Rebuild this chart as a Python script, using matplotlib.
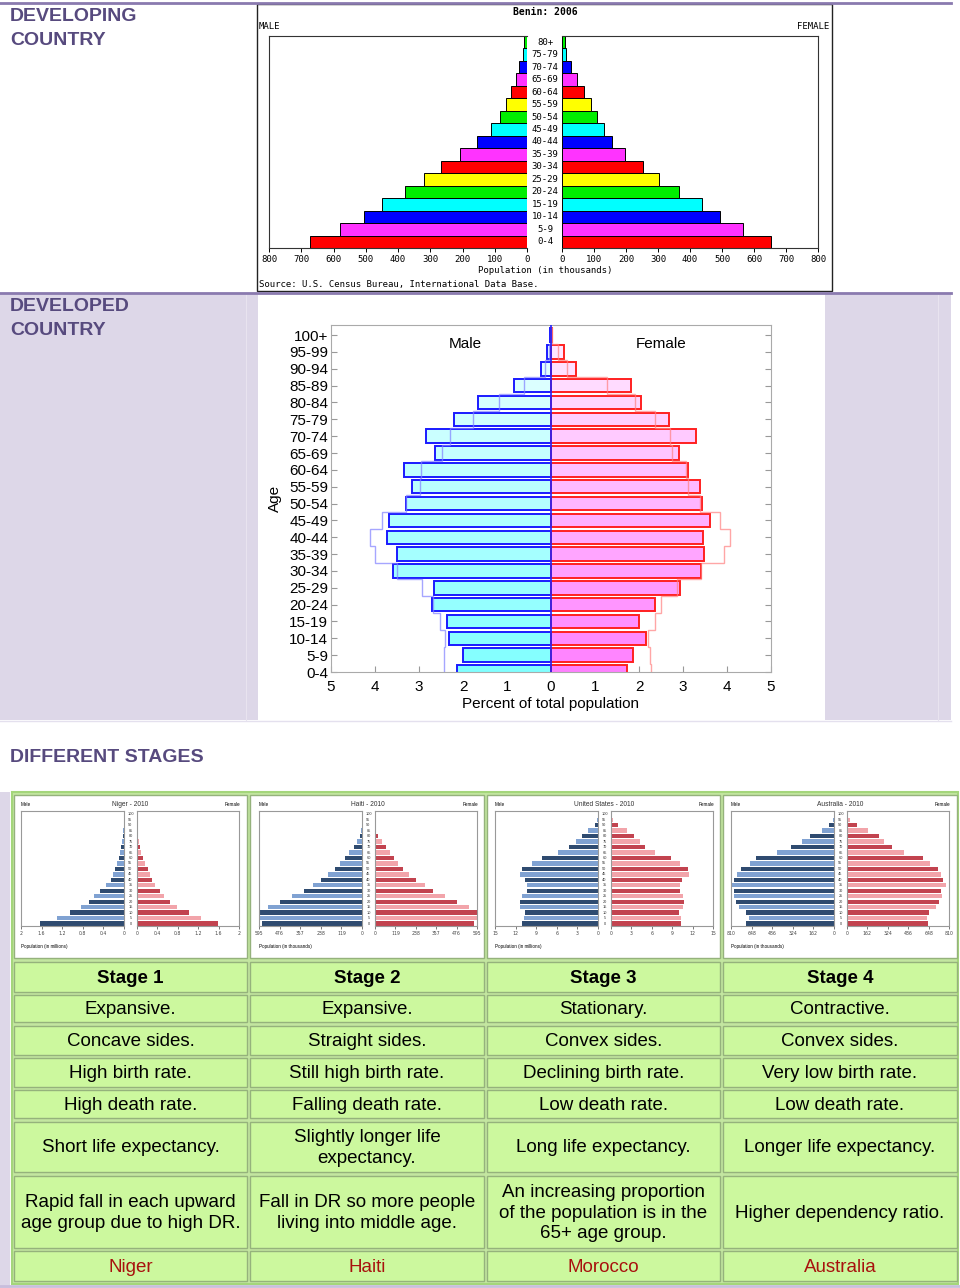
import numpy as np
import matplotlib.pyplot as plt
from matplotlib.patches import Rectangle
from matplotlib.transforms import blended_transform_factory

W, H = 960, 1288

# Benin 2006, population in thousands, youngest group first
benin_ages = ["0-4", "5-9", "10-14", "15-19", "20-24", "25-29", "30-34", "35-39",
              "40-44", "45-49", "50-54", "55-59", "60-64", "65-69", "70-74", "75-79", "80+"]
benin_male = [673, 580, 506, 449, 377, 319, 268, 208, 155, 112, 83, 66, 49, 35, 24, 12, 10]
benin_female = [654, 567, 494, 436, 365, 303, 252, 198, 157, 130, 109, 91, 70, 47, 29, 14, 8]
benin_cycle = ["#ff0000", "#ff33ff", "#0000ff", "#00ffff", "#00ee00", "#ffff00"]

# developed country, percent of total population
dev_ages = ["0-4", "5-9", "10-14", "15-19", "20-24", "25-29", "30-34", "35-39", "40-44",
            "45-49", "50-54", "55-59", "60-64", "65-69", "70-74", "75-79", "80-84",
            "85-89", "90-94", "95-99", "100+"]
dev_male = [2.14, 2.0, 2.32, 2.37, 2.70, 2.67, 3.60, 3.49, 3.72, 3.69, 3.30, 3.16, 3.34,
            2.64, 2.83, 2.20, 1.67, 0.83, 0.23, 0.09, 0.02]
dev_female = [1.73, 1.86, 2.15, 2.00, 2.37, 2.93, 3.41, 3.48, 3.46, 3.61, 3.43, 3.39, 3.11,
              2.91, 3.29, 2.69, 2.05, 1.82, 0.56, 0.30, 0.03]
dev_male_outline = [2.44, 2.44, 2.40, 2.52, 2.69, 2.93, 3.51, 4.00, 4.11, 3.83, 3.30, 2.97,
                    2.96, 2.48, 2.29, 1.78, 1.18, 0.62, 0.14, 0.04, 0.01]
dev_female_outline = [2.28, 2.24, 2.20, 2.37, 2.49, 2.86, 3.41, 3.93, 4.07, 3.85, 3.39, 3.12,
                      3.06, 2.74, 2.70, 2.37, 1.91, 1.27, 0.37, 0.15, 0.02]

# small pyramids, 2010
mini_ages = [str(a) for a in range(0, 101, 5)]
niger_male = [1.63, 1.30, 1.05, 0.83, 0.68, 0.58, 0.47, 0.35, 0.26, 0.21, 0.17, 0.14, 0.10,
              0.08, 0.05, 0.03, 0.02, 0.01, 0.0, 0.0, 0.0]
niger_female = [1.59, 1.26, 1.02, 0.79, 0.64, 0.53, 0.45, 0.36, 0.29, 0.25, 0.21, 0.16, 0.12,
                0.08, 0.06, 0.04, 0.02, 0.01, 0.0, 0.0, 0.0]
haiti_male = [576, 595, 595, 545, 474, 403, 335, 285, 239, 195, 156, 125, 96, 73, 48, 29, 13,
              4, 2, 0, 0]
haiti_female = [578, 595, 595, 547, 478, 408, 341, 289, 241, 198, 164, 133, 112, 85, 62, 39,
                19, 8, 4, 1, 0]
us_male = [11.0, 10.8, 10.6, 11.3, 11.3, 11.0, 10.4, 10.3, 10.6, 11.3, 11.0, 9.6, 8.2, 5.8,
           4.2, 3.2, 2.4, 1.4, 0.5, 0.15, 0.05]
us_female = [10.3, 10.3, 10.0, 10.6, 10.7, 10.6, 10.1, 10.1, 10.5, 11.5, 11.3, 10.1, 8.8, 6.5,
             5.0, 4.2, 3.4, 2.3, 1.1, 0.25, 0.05]
aus_male = [689, 670, 694, 744, 770, 789, 784, 810, 789, 765, 731, 657, 612, 449, 340, 248,
            187, 98, 37, 11, 3]
aus_female = [646, 639, 654, 704, 728, 757, 749, 784, 765, 744, 720, 660, 604, 449, 354, 293,
              251, 169, 77, 24, 8]
mini_titles = ["Niger - 2010", "Haiti - 2010", "United States - 2010", "Australia - 2010"]
mini_units = ["Population (in millions)", "Population (in thousands)",
              "Population (in millions)", "Population (in thousands)"]
mini_ticks = [[2, 1.6, 1.2, 0.8, 0.4, 0], [595, 476, 357, 238, 119, 0],
              [15, 12, 9, 6, 3, 0], [810, 648, 486, 324, 162, 0]]
mini_ticklabels = [["2", "1.6", "1.2", "0.8", "0.4", "0"], ["595", "476", "357", "238", "119", "0"],
                   ["15", "12", "9", "6", "3", "0"], ["810", "648", "486", "324", "162", "0"]]

# table text
stage_names = ["Stage 1", "Stage 2", "Stage 3", "Stage 4"]
shape_row = ["Expansive.", "Expansive.", "Stationary.", "Contractive."]
sides_row = ["Concave sides.", "Straight sides.", "Convex sides.", "Convex sides."]
birth_row = ["High birth rate.", "Still high birth rate.", "Declining birth rate.",
             "Very low birth rate."]
death_row = ["High death rate.", "Falling death rate.", "Low death rate.", "Low death rate."]
life_row = ["Short life expectancy.", "Slightly longer life\nexpectancy.",
            "Long life expectancy.", "Longer life expectancy."]
note_row = ["Rapid fall in each upward\nage group due to high DR.",
            "Fall in DR so more people\nliving into middle age.",
            "An increasing proportion\nof the population is in the\n65+ age group.",
            "Higher dependency ratio."]
country_row = ["Niger", "Haiti", "Morocco", "Australia"]

SANS = "Liberation Sans"
MONO = "DejaVu Sans Mono"
PURPLE = "#574a7e"
LAV = "#ddd7e8"

fig = plt.figure(figsize=(9.6, 12.88), dpi=100)
bg = fig.add_axes([0, 0, 1, 1])
bg.set_xlim(0, W)
bg.set_ylim(H, 0)
bg.axis("off")


def px_axes(x0, y0, x1, y1):
    return fig.add_axes([x0 / W, 1 - y1 / H, (x1 - x0) / W, (y1 - y0) / H])


# ---- background blocks
bg.add_patch(Rectangle((0, 293), 258, 427, color=LAV, lw=0))
bg.add_patch(Rectangle((825, 293), 126, 427, color=LAV, lw=0))
bg.plot([246, 246], [294, 720], color="#e8e3ef", lw=0.8)
bg.plot([938, 938], [294, 720], color="#e8e3ef", lw=0.8)
bg.plot([0, 951], [3, 3], color="#8a7aaf", lw=2)
bg.plot([0, 951], [293, 293], color="#8a7aaf", lw=2)
bg.plot([0, 951], [721, 721], color="#e4e0ee", lw=1)
for txt, yy in (("DEVELOPING", 16), ("COUNTRY", 40), ("DEVELOPED", 306), ("COUNTRY", 330),
                ("DIFFERENT STAGES", 757)):
    bg.text(10, yy, txt, fontsize=14, fontweight="bold", color=PURPLE, family=SANS,
            va="center")

# ---- Benin pyramid
bg.add_patch(Rectangle((257, 4), 575, 287, fc="white", ec="#222222", lw=1))
bg.text(545, 12, "Benin: 2006", fontsize=7, fontweight="bold", family=MONO, ha="center", va="center")
bg.text(259, 26, "MALE", fontsize=6.5, family=MONO, ha="left", va="center")
bg.text(829, 26, "FEMALE", fontsize=6.5, family=MONO, ha="right", va="center")
bg.text(545, 270, "Population (in thousands)", fontsize=6.5, family=MONO, ha="center", va="center")
bg.text(259, 284, "Source: U.S. Census Bureau, International Data Base.", fontsize=6.5,
        family=MONO, ha="left", va="center")

benin_colors = [benin_cycle[i % 6] for i in range(len(benin_ages))]
y = np.arange(len(benin_ages))
axm = px_axes(269, 36, 527, 248)
axm.barh(y, -np.array(benin_male), height=1.0, color=benin_colors, edgecolor="black", lw=0.7)
axm.set_xlim(-800, 0)
axf = px_axes(562, 36, 818, 248)
axf.barh(y, benin_female, height=1.0, color=benin_colors, edgecolor="black", lw=0.7)
axf.set_xlim(0, 800)
for ax, side in ((axm, -1), (axf, 1)):
    ax.set_ylim(-0.5, len(benin_ages) - 0.5)
    ticks = np.arange(0, 801, 100)
    ax.set_xticks(side * ticks)
    ax.set_xticklabels([str(t) for t in ticks], fontsize=6.5, family=MONO)
    ax.set_yticks([])
    ax.tick_params(axis="x", length=3, pad=2, width=0.7)
    for s in ax.spines.values():
        s.set_color("#333333")
        s.set_linewidth(0.8)
axm.spines["right"].set_visible(False)
axf.spines["left"].set_visible(False)
tr = blended_transform_factory(axm.transAxes, axm.transData)
for i, lab in enumerate(benin_ages):
    axm.text(1 + 18 / 258, i, lab, transform=tr, ha="center", va="center", fontsize=6.5,
             family=MONO, clip_on=False)

# ---- developed pyramid
axd = px_axes(331, 325, 771, 672)
yd = np.arange(len(dev_ages))
t = yd / (len(dev_ages) - 1)
male_fc = [(0.5 + 0.42 * v, 1, 1) for v in t]
female_fc = [(1, 0.5 + 0.42 * v, 1) for v in t]
axd.barh(yd, -np.array(dev_male), height=0.8, color=male_fc, edgecolor="#1a1aff", lw=1.4, zorder=2)
axd.barh(yd, dev_female, height=0.8, color=female_fc, edgecolor="#ff2020", lw=1.4, zorder=2)
edges = np.arange(len(dev_ages) + 1) - 0.5
axd.stairs(-np.array(dev_male_outline), edges, orientation="horizontal", baseline=None,
           color="#8080ff", lw=1.0, alpha=0.7, zorder=3)
axd.stairs(np.array(dev_female_outline), edges, orientation="horizontal", baseline=None,
           color="#ff8080", lw=1.0, alpha=0.7, zorder=3)
axd.axvline(0, color="#2020ff", lw=1.2, zorder=4)
axd.set_xlim(-5, 5)
axd.set_ylim(0, 20.6)
axd.set_xticks(np.arange(-5, 6))
axd.set_xticklabels([str(abs(v)) for v in range(-5, 6)], fontsize=11, family=SANS)
axd.set_yticks(yd)
axd.set_yticklabels(dev_ages, fontsize=11, family=SANS)
axd.tick_params(direction="in", length=4, color="#999999", right=True, top=True, pad=2)
axd.tick_params(axis="x", top=False, pad=6)
for s in axd.spines.values():
    s.set_color("#aaaaaa")
axd.set_xlabel("Percent of total population", fontsize=11, family=SANS, labelpad=2)
axd.set_ylabel("Age", fontsize=11, family=SANS, labelpad=5)
axd.text(-1.95, 19.5, "Male", fontsize=11, family=SANS, ha="center", va="center")
axd.text(2.5, 19.5, "Female", fontsize=11, family=SANS, ha="center", va="center")

# ---- table
bg.add_patch(Rectangle((0, 792), 10, 496, color=LAV, lw=0))
bg.plot([0, 960], [1286, 1286], color="#c8bedc", lw=2)
bg.add_patch(Rectangle((12, 792), 946, 492, fc="#c3e6a0", ec="#a4d67a", lw=1.5))
col_edges = [(14, 247), (250, 484), (487, 720), (723, 957)]
row_edges = [(795, 958), (962, 992), (995, 1022), (1026, 1055), (1058, 1087), (1090, 1118),
             (1122, 1172), (1176, 1248), (1251, 1281)]
text_rows = [stage_names, shape_row, sides_row, birth_row, death_row, life_row, note_row,
             country_row]
for c, (x0, x1) in enumerate(col_edges):
    for r, (y0, y1) in enumerate(row_edges):
        fc = "white" if r == 0 else "#ccf89e"
        bg.add_patch(Rectangle((x0, y0), x1 - x0, y1 - y0, fc=fc, ec="#95b27c", lw=1))
        if r == 0:
            continue
        txt = text_rows[r - 1][c]
        color = "#a8120e" if r == 8 else "black"
        weight = "bold" if r == 1 else "normal"
        bg.text((x0 + x1) / 2, (y0 + y1) / 2 + 1, txt, ha="center", va="center", fontsize=13.5,
                family=SANS, color=color, fontweight=weight, linespacing=1.3)

# ---- small pyramids
mini_male = [niger_male, haiti_male, us_male, aus_male]
mini_female = [niger_female, haiti_female, us_female, aus_female]
cell_left = [12, 250, 486, 722]
ym = np.arange(len(mini_ages))
dark_m, light_m = "#2f4b70", "#80a2d2"
dark_f, light_f = "#c2434f", "#f2a4aa"
for k in range(4):
    cl, ct = cell_left[k], 795
    xmax = mini_ticks[k][0]
    bg.text(cl + 118, ct + 9, mini_titles[k], fontsize=4.8, family=SANS, ha="center",
            va="center", color="#333333")
    bg.text(cl + 9, ct + 9, "Male", fontsize=3.3, family=SANS, ha="left", va="center")
    bg.text(cl + 228, ct + 9, "Female", fontsize=3.3, family=SANS, ha="right", va="center")
    bg.text(cl + 9, ct + 151, mini_units[k], fontsize=3.3, family=SANS, ha="left", va="center")
    am = px_axes(cl + 9, ct + 16, cl + 112, ct + 131)
    af = px_axes(cl + 125, ct + 16, cl + 227, ct + 131)
    cm = [dark_m if i % 2 == 0 else light_m for i in ym]
    cf = [dark_f if i % 2 == 0 else light_f for i in ym]
    am.barh(ym, -np.array(mini_male[k]), height=0.8, color=cm, lw=0)
    af.barh(ym, mini_female[k], height=0.8, color=cf, lw=0)
    am.set_xlim(-xmax, 0)
    af.set_xlim(0, xmax)
    am.set_xticks([-v for v in mini_ticks[k]])
    af.set_xticks(mini_ticks[k])
    am.set_xticklabels(mini_ticklabels[k])
    af.set_xticklabels(mini_ticklabels[k])
    for ax in (am, af):
        ax.set_ylim(-0.45, 20.6)
        ax.set_yticks([])
        ax.tick_params(axis="x", labelsize=3.3, length=2, width=0.5, pad=1.5, colors="#444444")
        for s in ax.spines.values():
            s.set_color("#999999")
            s.set_linewidth(0.8)
    trm = blended_transform_factory(am.transAxes, am.transData)
    for i, lab in enumerate(mini_ages):
        am.text(1 + 6.5 / 103, i, lab, transform=trm, ha="center", va="center", fontsize=2.8,
                family=SANS, clip_on=False, color="#333333")

fig.savefig("out.png", dpi=100)
